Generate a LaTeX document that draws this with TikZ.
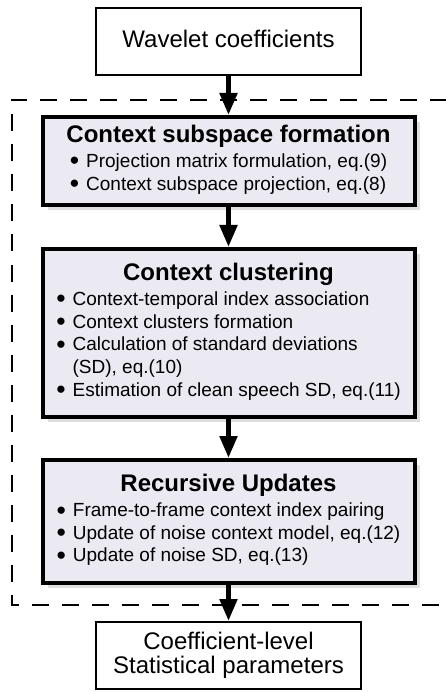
\documentclass[tikz,border=0pt]{standalone}
\usepackage{graphicx}
\usepackage{fontspec}
\setmainfont{Liberation Sans}
\usetikzlibrary{arrows.meta,shadows}
\definecolor{stagefill}{RGB}{235,233,241}
\newcommand{\stagehead}[1]{\multicolumn{2}{@{}c@{}}{\makebox[0pt]{\fontsize{24}{26}\selectfont\bfseries #1}}\\[2.3pt]}
\newcommand{\stagelist}[2]{\begin{tabular}{@{}l@{\hspace{7pt}}l@{}}\stagehead{#1}#2\end{tabular}}
\newcommand{\dotmark}{\raisebox{-2.5pt}{\scalebox{1.4}{\textbullet}}}

\begin{document}
\begin{tikzpicture}[x=1pt,y=-1pt,
    plainbox/.style={draw,line width=2pt,minimum width=265pt,minimum height=67pt,
      inner sep=0pt,align=center,text depth=6pt,font=\fontsize{24}{24}\selectfont},
    stagebox/.style={draw,line width=4pt,fill=stagefill,minimum width=372pt,inner sep=0pt,
      font=\fontsize{19}{22.7}\selectfont,
      drop shadow={shadow xshift=5pt,shadow yshift=-5pt,opacity=.25}},
    flow/.style={line width=5pt,-{Triangle[length=22pt,width=17pt]}},
    dashframe/.style={line width=2pt,dash pattern=on 17pt off 13pt}]
  \useasboundingbox (0,0) rectangle (446,692);
  \draw [dashframe] (447,100) -- (11.5,100) -- (11.5,604.5) -- (447,604.5);
  \node [plainbox] (wav) at (228.5,42) {Wavelet coefficients};
  \node [stagebox,minimum height=88pt] (sub) at (228.5,161)
    {\stagelist{Context subspace formation}{%
      \dotmark & Projection matrix formulation, eq.(9)\\
      \dotmark & Context subspace projection, eq.(8)}};
  \node [stagebox,minimum height=168pt] (clu) at (228.5,333)
    {\stagelist{Context clustering}{%
      \dotmark & Context-temporal index association\\
      \dotmark & Context clusters formation\\
      \dotmark & Calculation of standard deviations\\
               & (SD), eq.(10)\\
      \dotmark & Estimation of clean speech SD, eq.(11)}};
  \node [stagebox,minimum height=123pt] (rec) at (228.5,521.5)
    {\stagelist{Recursive Updates}{%
      \dotmark & Frame-to-frame context index pairing\\
      \dotmark & Update of noise context model, eq.(12)\\
      \dotmark & Update of noise SD, eq.(13)}};
  \node [plainbox] (par) at (228.5,655.5) {Coefficient-level\\Statistical parameters};
  \draw [flow] (wav) -- (sub);
  \draw [flow] (sub) -- (clu);
  \draw [flow] (clu) -- (rec);
  \draw [flow] (rec) -- (par);
\end{tikzpicture}
\end{document}
